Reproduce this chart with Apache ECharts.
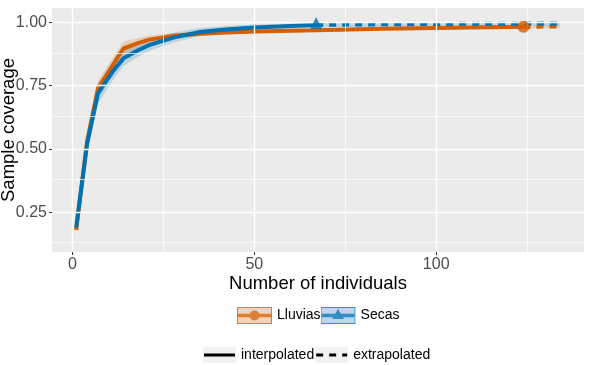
<!DOCTYPE html>
<html>
<head>
<meta charset="utf-8">
<script src="https://cdn.jsdelivr.net/npm/echarts@6/dist/echarts.min.js"></script>
<style>
  html, body { margin: 0; padding: 0; background: #fff; }
  #chart { width: 590px; height: 365px; }
</style>
</head>
<body>
<div id="chart"></div>
<script>
// interpolated part (rarefaction)
const lluviasX = [1, 4, 7, 11, 14, 18, 21, 25, 28, 35, 42, 50, 67, 85, 100, 124]
const lluviasY = [0.18, 0.53, 0.74, 0.83, 0.897, 0.918, 0.932, 0.941, 0.947, 0.955, 0.960, 0.964, 0.969, 0.975, 0.978, 0.983]
const lluviasLo = [0.17, 0.50, 0.71, 0.80, 0.870, 0.898, 0.916, 0.928, 0.936, 0.946, 0.952, 0.957, 0.963, 0.969, 0.972, 0.977]
const lluviasHi = [0.19, 0.56, 0.77, 0.86, 0.925, 0.938, 0.948, 0.954, 0.958, 0.964, 0.968, 0.971, 0.975, 0.981, 0.984, 0.989]
const secasX = [1, 4, 7, 11, 14, 18, 21, 25, 28, 35, 42, 50, 60, 67]
const secasY = [0.19, 0.52, 0.72, 0.805, 0.858, 0.890, 0.910, 0.928, 0.941, 0.962, 0.972, 0.980, 0.986, 0.990]
const secasLo = [0.17, 0.48, 0.68, 0.77, 0.828, 0.864, 0.887, 0.907, 0.922, 0.946, 0.958, 0.968, 0.976, 0.980]
const secasHi = [0.21, 0.56, 0.76, 0.84, 0.888, 0.916, 0.933, 0.949, 0.960, 0.978, 0.986, 0.992, 0.996, 0.999]

// extrapolated part
const lluviasExtX = [124, 134]
const lluviasExtY = [0.983, 0.984]
const lluviasExtLo = [0.977, 0.977]
const lluviasExtHi = [0.989, 0.990]
const secasExtX = [67, 80, 100, 120, 134]
const secasExtY = [0.990, 0.992, 0.994, 0.995, 0.996]
const secasExtLo = [0.980, 0.982, 0.985, 0.986, 0.987]
const secasExtHi = [0.999, 1.0, 1.0, 1.0, 1.0]

// observed sample
const lluviasObs = [124, 0.983]
const secasObs = [67, 0.990]

const xTicks = [0, 50, 100]
const xMinor = [25, 75, 125]
const yTicks = [0.25, 0.5, 0.75, 1.0]
const yMinor = [0.125, 0.375, 0.625, 0.875]

const orange = '#D55E00'
const blue = '#0072B2'
const font = 'Liberation Sans'

const pairs = (xs, ys) => xs.map((x, i) => [x, ys[i]])
const svgIcon = (s) => 'image://data:image/svg+xml;charset=utf-8,' + encodeURIComponent(s)

const lluviasIcon = svgIcon(
  "<svg xmlns='http://www.w3.org/2000/svg' width='35' height='17'>" +
  "<rect x='0.5' y='0.5' width='34' height='16' fill='#F3C7A8' stroke='#D55E00'/>" +
  "<line x1='1' y1='8.5' x2='34' y2='8.5' stroke='#D55E00' stroke-width='3.5'/>" +
  "<circle cx='17.5' cy='8.5' r='5' fill='#D55E00'/></svg>")
const secasIcon = svgIcon(
  "<svg xmlns='http://www.w3.org/2000/svg' width='35' height='17'>" +
  "<rect x='0.5' y='0.5' width='34' height='16' fill='#A9CDE8' stroke='#0072B2'/>" +
  "<line x1='1' y1='8.5' x2='34' y2='8.5' stroke='#0072B2' stroke-width='3.5'/>" +
  "<polygon points='17.5,2 23.5,12 11.5,12' fill='#0072B2'/></svg>")
const interpIcon = svgIcon(
  "<svg xmlns='http://www.w3.org/2000/svg' width='33' height='16'>" +
  "<rect x='0' y='0' width='33' height='16' fill='#F2F2F2'/>" +
  "<line x1='1' y1='8' x2='32' y2='8' stroke='#000' stroke-width='3'/></svg>")
const extrapIcon = svgIcon(
  "<svg xmlns='http://www.w3.org/2000/svg' width='33' height='16'>" +
  "<rect x='0' y='0' width='33' height='16' fill='#F2F2F2'/>" +
  "<line x1='1' y1='8' x2='32' y2='8' stroke='#000' stroke-width='3' stroke-dasharray='7,6'/></svg>")

// confidence ribbon: one polygon through hi (forward) and lo (backward)
function band(xs, lo, hi, color) {
  return {
    type: 'custom', silent: true, z: 2, animation: false,
    data: xs.map((x, i) => [x, lo[i], hi[i]]),
    encode: { x: 0, y: [1, 2] },
    renderItem: (params, api) => {
      if (params.dataIndex !== 0) return
      const top = xs.map((x, i) => api.coord([x, hi[i]]))
      const bottom = xs.map((x, i) => api.coord([x, lo[i]])).reverse()
      return {
        type: 'polygon',
        shape: { points: top.concat(bottom) },
        style: { fill: color }
      }
    }
  }
}

function line(xs, ys, color, dashed) {
  return {
    type: 'line', data: pairs(xs, ys), symbol: 'none', silent: true, z: 3,
    lineStyle: { color: color, width: 4, type: dashed ? [7, 6] : 'solid' },
    animation: false
  }
}

const gridLines = (xs, ys, width) => ({
  type: 'line', data: [], silent: true, z: 1, animation: false,
  markLine: {
    silent: true, symbol: 'none', label: { show: false }, animation: false,
    lineStyle: { color: '#FFFFFF', width: width, type: 'solid' },
    data: xs.map(v => ({ xAxis: v })).concat(ys.map(v => ({ yAxis: v })))
  }
})

const chart = echarts.init(document.getElementById('chart'))
chart.setOption({
  animation: false,
  textStyle: { fontFamily: font },
  grid: {
    left: 52, right: 6, top: 8, bottom: 113,
    outerBoundsMode: 'none', containLabel: false,
    show: true, backgroundColor: '#EBEBEB', borderWidth: 0
  },
  xAxis: {
    type: 'value', min: -5.65, max: 140.65,
    name: 'Number of individuals', nameLocation: 'middle', nameGap: 22, nameMoveOverlap: false,
    nameTextStyle: { fontSize: 18.5, color: '#000', fontFamily: font },
    axisLine: { show: false, onZero: false },
    axisTick: { show: true, length: 3, customValues: xTicks, lineStyle: { color: '#333', width: 1 } },
    axisLabel: { customValues: xTicks, fontSize: 16, color: '#4D4D4D', margin: 5, fontFamily: font },
    splitLine: { show: false }
  },
  yAxis: {
    type: 'value', min: 0.093, max: 1.057,
    name: 'Sample coverage', nameLocation: 'middle', nameGap: 34, nameMoveOverlap: false,
    nameTextStyle: { fontSize: 18.5, color: '#000', fontFamily: font },
    axisLine: { show: false, onZero: false },
    axisTick: { show: true, length: 3, customValues: yTicks, lineStyle: { color: '#333', width: 1 } },
    axisLabel: {
      customValues: yTicks, fontSize: 16, color: '#4D4D4D', margin: 5, fontFamily: font,
      formatter: (v) => v.toFixed(2)
    },
    splitLine: { show: false }
  },
  legend: [
    {
      left: 237, top: 307, padding: 0, itemWidth: 35, itemHeight: 17, itemGap: 0,
      textStyle: { fontSize: 14, color: '#000', fontFamily: font },
      data: [{ name: 'Lluvias', icon: lluviasIcon }, { name: 'Secas', icon: secasIcon }],
      selectedMode: false
    },
    {
      left: 203, top: 347, padding: 0, itemWidth: 33, itemHeight: 16, itemGap: 1,
      textStyle: { fontSize: 14, color: '#000', fontFamily: font },
      data: [{ name: 'interpolated', icon: interpIcon }, { name: 'extrapolated', icon: extrapIcon }],
      selectedMode: false
    }
  ],
  series: [
    gridLines(xMinor, yMinor, 0.7),
    gridLines(xTicks, yTicks, 1.4),
    band(lluviasX, lluviasLo, lluviasHi, 'rgba(213,94,0,0.2)'),
    band(lluviasExtX, lluviasExtLo, lluviasExtHi, 'rgba(213,94,0,0.2)'),
    band(secasX, secasLo, secasHi, 'rgba(0,114,178,0.2)'),
    band(secasExtX, secasExtLo, secasExtHi, 'rgba(0,114,178,0.2)'),
    line(lluviasX, lluviasY, orange, false),
    line(lluviasExtX, lluviasExtY, orange, true),
    line(secasX, secasY, blue, false),
    line(secasExtX, secasExtY, blue, true),
    {
      type: 'scatter', name: 'Lluvias', data: [lluviasObs], symbol: 'circle', symbolSize: 12,
      itemStyle: { color: orange }, z: 5, silent: true
    },
    {
      type: 'scatter', name: 'Secas', data: [secasObs], symbol: 'triangle',
      symbolSize: [12, 12], symbolOffset: [0, -2],
      itemStyle: { color: blue }, z: 5, silent: true
    },
    { type: 'line', name: 'interpolated', data: [], itemStyle: { color: '#000' } },
    { type: 'line', name: 'extrapolated', data: [], itemStyle: { color: '#000' } }
  ]
})
</script>
</body>
</html>
